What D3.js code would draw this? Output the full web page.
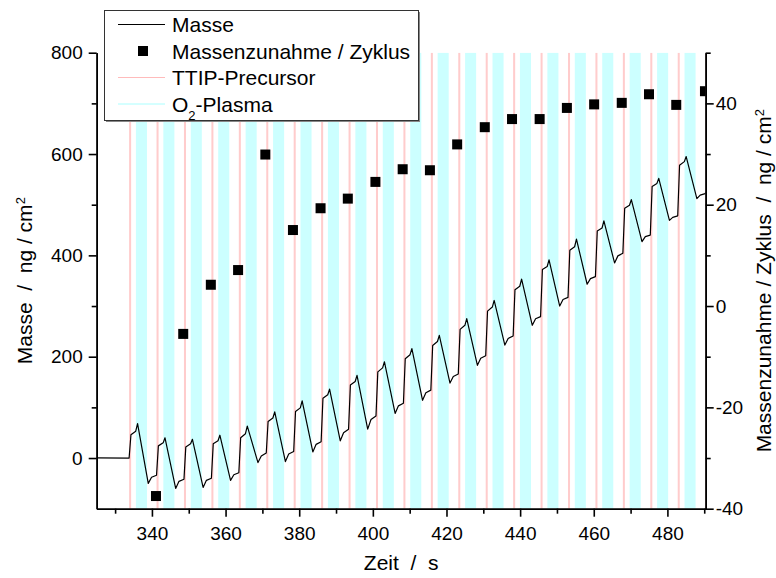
<!DOCTYPE html>
<html>
<head>
<meta charset="utf-8">
<script src="https://cdn.jsdelivr.net/npm/d3@7"></script>
<style>
  body { margin: 0; background: #fff; }
  text { font-family: "Liberation Sans", Arial, sans-serif; fill: #000; }
</style>
</head>
<body>
<svg width="776" height="578"></svg>
<script>
// pink line = start of each TTIP pulse (s)
const cycleStart = [333.8, 341.25, 348.7, 356.15, 363.6, 371.05, 378.5, 385.95, 393.4, 400.85,
  408.3, 415.75, 423.2, 430.65, 438.1, 445.55, 453.0, 460.45, 467.9, 475.35, 482.8, 490.25];

// Masse (ng/cm2), read per cycle
const massStart    = [0, -34, -42, -40, -29, 10, 13, 32, 57, 83, 108, 134, 166, 202, 241, 279, 317, 358, 404, 440, 478];
const massRiseTop  = [46, 24, 22, 28, 40, 72, 92, 118, 144, 170, 196, 222, 254, 290, 332, 372, 410, 448, 493, 536, 578];
const massShoulder = [53, 30, 28, 34, 48, 79, 99, 125, 151, 178, 204, 230, 262, 298, 339, 378, 417, 454, 499, 542, 585];
const massPeak     = [68, 40, 37, 45, 63, 91, 113, 136, 163, 190, 216, 242, 275, 311, 353, 391, 432, 468, 510, 552, 595];
const massDip      = [-50, -60, -58, -44, -9, -7, 12, 34, 57, 88, 114, 148, 183, 223, 262, 300, 343, 385, 427, 469, 512];
const massRecover  = [-38, -46, -44, -33, 4, 8, 27, 50, 76, 103, 129, 161, 197, 236, 275, 313, 354, 399, 437, 475, 519];
const massEnd = 522;

// Massenzunahme / Zyklus (ng/cm2)
const gainTime  = [341.1, 348.5, 356.0, 363.4, 370.8, 378.3, 385.8, 393.2, 400.7, 408.1, 415.5,
  422.9, 430.4, 437.8, 445.3, 452.7, 460.1, 467.6, 475.0, 482.4, 490.2];
const gainValue = [-37.5, -5.5, 4.2, 7.1, 29.9, 15.0, 19.3, 21.2, 24.5, 27.0, 26.8,
  31.9, 35.3, 36.9, 36.9, 39.1, 39.8, 40.1, 41.8, 39.7, 42.4];

const xTicks = [340, 360, 380, 400, 420, 440, 460, 480];
const xMinor = [330, 350, 370, 390, 410, 430, 450, 470, 490];
const leftTicks = [0, 200, 400, 600, 800];
const leftMinor = [100, 300, 500, 700];
const rightTicks = [-40, -20, 0, 20, 40];
const rightMinor = [-30, -10, 10, 30, 50];

const pulseLen = 0.55, plasmaOffset = 1.85, plasmaLen = 3.0;

const svg = d3.select("svg");
const plotLeft = 96.7, plotRight = 705.7, plotTop = 52.7, plotBottom = 508.7;

const x = d3.scaleLinear().domain([325, 490.4]).range([plotLeft, plotRight]);
const yL = d3.scaleLinear().domain([-100, 800]).range([plotBottom, plotTop]);
const yR = d3.scaleLinear().domain([-40, 50]).range([plotBottom, plotTop]);

svg.append("defs").append("clipPath").attr("id", "plot")
  .append("rect").attr("x", plotLeft).attr("y", plotTop)
  .attr("width", plotRight - plotLeft).attr("height", plotBottom - plotTop);

const plot = svg.append("g").attr("clip-path", "url(#plot)");

// O2 plasma bands
plot.selectAll(".plasma")
  .data(cycleStart)
  .enter()
  .append("rect")
  .attr("x", d => x(d + plasmaOffset))
  .attr("width", d => x(d + plasmaOffset + plasmaLen) - x(d + plasmaOffset))
  .attr("y", plotTop)
  .attr("height", plotBottom - plotTop)
  .attr("fill", "#ccffff");

// TTIP pulses
plot.selectAll(".pulse")
  .data(cycleStart)
  .enter()
  .append("rect")
  .attr("x", d => x(d))
  .attr("width", d => x(d + pulseLen) - x(d))
  .attr("y", plotTop)
  .attr("height", plotBottom - plotTop)
  .attr("fill", "#ffcccc");

// Masse line
const massPoints = [[325, 0.5]];
cycleStart.slice(0, massStart.length).forEach((t, i) => {
  massPoints.push([t, massStart[i]]);
  massPoints.push([t + 0.5, massRiseTop[i]]);
  massPoints.push([t + 1.8, massShoulder[i]]);
  massPoints.push([t + 2.3, massPeak[i]]);
  massPoints.push([t + 5.2, massDip[i]]);
  massPoints.push([t + 6.1, massRecover[i]]);
});
massPoints.push([cycleStart[cycleStart.length - 1], massEnd]);
massPoints.push([490.4, massEnd + 2]);

plot.append("path")
  .datum(massPoints)
  .attr("fill", "none")
  .attr("stroke", "#000")
  .attr("stroke-width", 1.2)
  .attr("stroke-linejoin", "round")
  .attr("d", d3.line().x(d => x(d[0])).y(d => yL(d[1])));

// mass gain squares
plot.selectAll(".gain")
  .data(gainTime)
  .enter()
  .append("rect")
  .attr("x", d => x(d) - 5)
  .attr("y", (d, i) => yR(gainValue[i]) - 5)
  .attr("width", 10)
  .attr("height", 10)
  .attr("fill", "#000");

// axes
const plainNum = d => String(d);

function styleAxis(g) {
  g.selectAll("path, line").attr("stroke", "#000").attr("stroke-width", 1.6);
  g.selectAll("text").style("font-size", "19px").style("font-family", '"Liberation Sans", Arial, sans-serif');
}

svg.append("g").attr("transform", `translate(0,${plotBottom})`)
  .call(d3.axisBottom(x).tickValues(xTicks).tickFormat(plainNum).tickSize(8).tickPadding(10).tickSizeOuter(0))
  .call(styleAxis);
svg.append("g").attr("transform", `translate(0,${plotBottom})`)
  .call(d3.axisBottom(x).tickValues(xMinor).tickSize(5).tickFormat("").tickSizeOuter(0))
  .call(styleAxis);

svg.append("g").attr("transform", `translate(${plotLeft},0)`)
  .call(d3.axisLeft(yL).tickValues(leftTicks).tickFormat(plainNum).tickSize(8).tickPadding(6).tickSizeOuter(0))
  .call(styleAxis);
svg.append("g").attr("transform", `translate(${plotLeft},0)`)
  .call(d3.axisLeft(yL).tickValues(leftMinor).tickSize(5).tickFormat("").tickSizeOuter(0))
  .call(styleAxis);

svg.append("g").attr("transform", `translate(${plotRight},0)`)
  .call(d3.axisRight(yR).tickValues(rightTicks).tickFormat(plainNum).tickSize(8).tickPadding(2).tickSizeOuter(0))
  .call(styleAxis);
svg.append("g").attr("transform", `translate(${plotRight},0)`)
  .call(d3.axisRight(yR).tickValues(rightMinor).tickSize(5).tickFormat("").tickSizeOuter(0))
  .call(styleAxis);

// axis titles
svg.append("text")
  .attr("x", (plotLeft + plotRight) / 2)
  .attr("y", 570)
  .attr("text-anchor", "middle")
  .style("font-size", "21px")
  .style("white-space", "pre")
  .text("Zeit  /  s");

const midY = (plotTop + plotBottom) / 2;
const leftTitle = svg.append("text")
  .attr("transform", `translate(32,${midY}) rotate(-90)`)
  .attr("text-anchor", "middle")
  .style("font-size", "21px")
  .style("white-space", "pre");
leftTitle.append("tspan").text("Masse  /  ng / cm");
leftTitle.append("tspan").attr("baseline-shift", "super").style("font-size", "13px").text("2");

const rightTitle = svg.append("text")
  .attr("transform", `translate(771,${midY}) rotate(-90)`)
  .attr("text-anchor", "middle")
  .style("font-size", "21px")
  .style("white-space", "pre");
rightTitle.append("tspan").text("Massenzunahme / Zyklus  /  ng / cm");
rightTitle.append("tspan").attr("baseline-shift", "super").style("font-size", "13px").text("2");

// legend
const legend = svg.append("g");
legend.append("rect")
  .attr("x", 106).attr("y", 12).attr("width", 314).attr("height", 110)
  .attr("fill", "#888");
legend.append("rect")
  .attr("x", 104.5).attr("y", 10.5).attr("width", 314).attr("height", 110)
  .attr("fill", "#fff").attr("stroke", "#333").attr("stroke-width", 1);

const rows = [24.5, 51, 77.5, 104];
legend.append("line").attr("x1", 118).attr("x2", 165).attr("y1", rows[0]).attr("y2", rows[0])
  .attr("stroke", "#000").attr("stroke-width", 1.2);
legend.append("rect").attr("x", 138).attr("y", rows[1] - 5).attr("width", 10).attr("height", 10)
  .attr("fill", "#000");
legend.append("line").attr("x1", 118).attr("x2", 165).attr("y1", rows[2]).attr("y2", rows[2])
  .attr("stroke", "#ffbbbb").attr("stroke-width", 1);
legend.append("line").attr("x1", 118).attr("x2", 165).attr("y1", rows[3]).attr("y2", rows[3])
  .attr("stroke", "#aaffff").attr("stroke-width", 1);

const labels = ["Masse", "Massenzunahme / Zyklus", "TTIP-Precursor"];
labels.forEach((l, i) => {
  legend.append("text").attr("x", 172).attr("y", rows[i] + 7.5)
    .style("font-size", "21px").text(l);
});
const o2 = legend.append("text").attr("x", 172).attr("y", rows[3] + 7.5).style("font-size", "21px");
o2.append("tspan").text("O");
o2.append("tspan").attr("baseline-shift", "sub").style("font-size", "13px").text("2");
o2.append("tspan").text("-Plasma");
</script>
</body>
</html>
